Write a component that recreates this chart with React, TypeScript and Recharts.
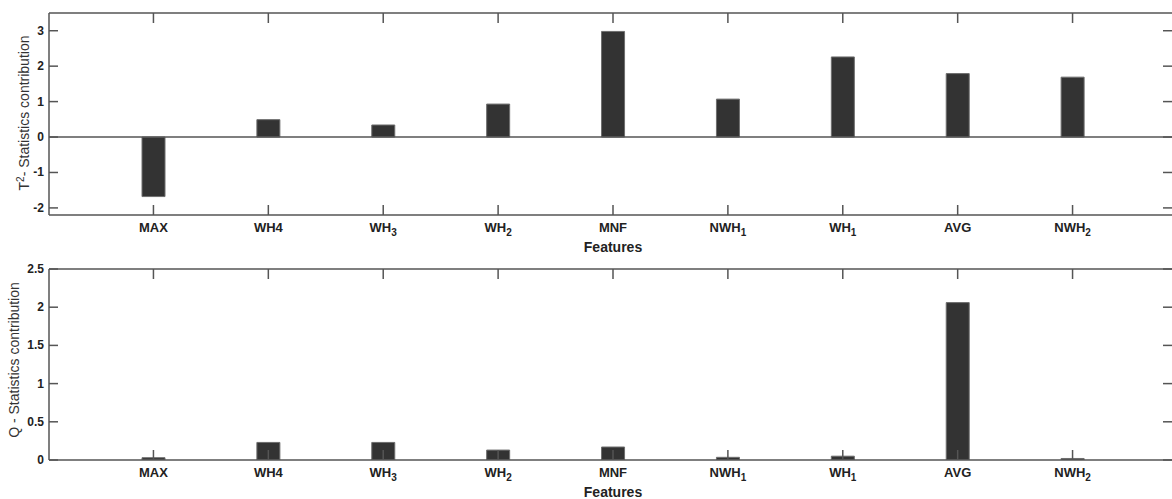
import React from 'react';
import { BarChart, Bar, XAxis, YAxis, ReferenceLine } from 'recharts';

// feature names; "_" marks a subscript
const features = ['MAX', 'WH4', 'WH_3', 'WH_2', 'MNF', 'NWH_1', 'WH_1', 'AVG', 'NWH_2'];
const t2Contribution = [-1.68, 0.49, 0.34, 0.93, 2.98, 1.07, 2.26, 1.79, 1.69];
const qContribution = [0.03, 0.23, 0.23, 0.13, 0.17, 0.035, 0.05, 2.06, 0.02];
const t2Ticks = [-2, -1, 0, 1, 2, 3];
const qTicks = [0, 0.5, 1, 1.5, 2, 2.5];

const W = 1172;
const PLOT_LEFT = 49;
const AXIS = '#555';
const TEXT = '#222';
const FONT = '"Liberation Sans", Arial, sans-serif';

const t2Data = features.map((f, i) => ({ feature: f, value: t2Contribution[i] }));
const qData = features.map((f, i) => ({ feature: f, value: qContribution[i] }));

const FeatureLabel = ({ x, y, name }: { x: number; y: number; name: string }) => {
    const [base, sub] = name.split('_');
    return (
        <text x={x} y={y} textAnchor="middle" fontSize={13} fontWeight="bold" fill={TEXT} fontFamily={FONT}>
            {base}
            {sub && <tspan dy={4} fontSize={10}>{sub}</tspan>}
        </text>
    );
};

// inward ticks on top and bottom edges, MATLAB style
const makeXTick = (top: number, bottom: number) => (props: any) => {
    const { x, payload } = props;
    return (
        <g>
            <line x1={x} x2={x} y1={bottom} y2={bottom - 10} stroke={AXIS} strokeWidth={1.5} />
            <line x1={x} x2={x} y1={top} y2={top + 10} stroke={AXIS} strokeWidth={1.5} />
            <FeatureLabel x={x} y={bottom + 17} name={payload.value} />
        </g>
    );
};

const makeYTick = () => (props: any) => {
    const { y, payload } = props;
    return (
        <g>
            <line x1={PLOT_LEFT} x2={PLOT_LEFT + 9} y1={y} y2={y} stroke={AXIS} strokeWidth={1.5} />
            <line x1={W - 9} x2={W} y1={y} y2={y} stroke={AXIS} strokeWidth={1.5} />
            <text x={PLOT_LEFT - 5} y={y + 4} textAnchor="end" fontSize={12} fontWeight="bold" fill={TEXT} fontFamily={FONT}>
                {payload.value}
            </text>
        </g>
    );
};

interface PanelProps {
    data: { feature: string; value: number }[];
    height: number;
    top: number;
    bottom: number;
    domain: [number, number];
    ticks: number[];
    yLabel: React.ReactNode;
    yLabelX: number;
    yLabelY: number;
    zeroLine?: boolean;
}

// top / bottom are the plot edges' distances from the svg edges
function Panel({ data, height, top, bottom, domain, ticks, yLabel, yLabelX, yLabelY, zeroLine }: PanelProps) {
    const plotBottom = height - bottom;
    return (
        <BarChart width={W} height={height} data={data} margin={{ top: top - 1, right: 0, bottom: bottom - 1, left: 0 }}>
            <XAxis
                dataKey="feature"
                interval={0}
                height={1}
                padding={{ left: 47, right: 42 }}
                axisLine={{ stroke: AXIS, strokeWidth: 1.5 }}
                tickLine={false}
                tick={makeXTick(top, plotBottom)}
                label={{
                    content: () => (
                        <text x={613} y={plotBottom + 37} textAnchor="middle" fontSize={14} fontWeight="bold" fill={TEXT} fontFamily={FONT}>
                            Features
                        </text>
                    )
                }}
            />
            <XAxis
                xAxisId="top"
                dataKey="feature"
                orientation="top"
                height={1}
                tick={false}
                tickLine={false}
                axisLine={{ stroke: AXIS, strokeWidth: 1.5 }}
            />
            <YAxis
                width={PLOT_LEFT}
                domain={domain}
                ticks={ticks}
                allowDataOverflow
                axisLine={{ stroke: AXIS, strokeWidth: 1.5 }}
                tickLine={false}
                tick={makeYTick()}
                label={{
                    content: () => (
                        <text
                            x={yLabelX}
                            y={yLabelY}
                            transform={`rotate(-90 ${yLabelX} ${yLabelY})`}
                            textAnchor="middle"
                            fontSize={14}
                            fill="#333"
                            fontFamily={FONT}
                        >
                            {yLabel}
                        </text>
                    )
                }}
            />
            {zeroLine && <ReferenceLine y={0} stroke={AXIS} strokeWidth={1.5} />}
            <Bar dataKey="value" barSize={23} fill="#333" stroke="#6e6e6e" strokeWidth={1} isAnimationActive={false} />
        </BarChart>
    );
}

export default function App() {
    return (
        <div style={{ position: 'absolute', left: 0, top: 0, width: W, height: 499, background: '#fff', overflow: 'hidden' }}>
            <Panel
                data={t2Data}
                height={262}
                top={13}
                bottom={47}
                domain={[-2.2, 3.5]}
                ticks={t2Ticks}
                yLabel={<>T<tspan dy={-5} fontSize={10}>2</tspan><tspan dy={5}>- Statistics contribution</tspan></>}
                yLabelX={29}
                yLabelY={113}
                zeroLine
            />
            <div style={{ position: 'absolute', left: 0, top: 250 }}>
                <Panel
                    data={qData}
                    height={249}
                    top={19}
                    bottom={39}
                    domain={[0, 2.5]}
                    ticks={qTicks}
                    yLabel="Q - Statistics contribution"
                    yLabelX={19}
                    yLabelY={110}
                />
            </div>
        </div>
    );
}
